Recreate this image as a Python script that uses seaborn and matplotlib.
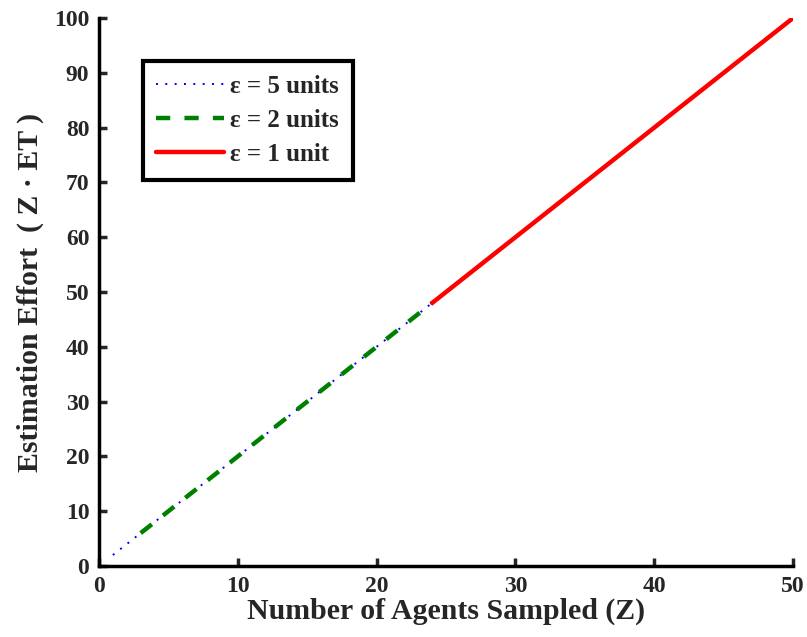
import pandas as pd
import seaborn as sns
import matplotlib.pyplot as plt

# Date
z_eps5 = [1, 24]
effort_eps5 = [2, 48]
z_eps2 = [3, 24]
effort_eps2 = [6, 48]
z_eps1 = [24, 50]
effort_eps1 = [48, 100]

x_ticks = [0, 10, 20, 30, 40, 50]
y_ticks = [0, 10, 20, 30, 40, 50, 60, 70, 80, 90, 100]

sns.set_style('ticks')
plt.rcParams['font.family'] = ['Liberation Serif', 'DejaVu Serif']
plt.rcParams['font.weight'] = 'bold'

fig = plt.figure(figsize=(8.07, 6.37), dpi=100)
ax = fig.add_axes([0.1227, 0.1115, 0.86, 0.8602])

sns.lineplot(x=z_eps5, y=effort_eps5, ax=ax, color='blue', lw=1.4,
             linestyle=(0, (1, 3.8)), label='ε = 5 units')
sns.lineplot(x=z_eps2, y=effort_eps2, ax=ax, color='green', lw=3.2,
             linestyle=(0, (3.2, 3.2)), label='ε = 2 units')
sns.lineplot(x=z_eps1, y=effort_eps1, ax=ax, color='red', lw=3.2,
             linestyle='-', label='ε = 1 unit')

ax.set_xlim(0, 50)
ax.set_ylim(0, 100)
ax.set_xticks(x_ticks)
ax.set_yticks(y_ticks)
ax.tick_params(direction='in', length=6, width=2.5, labelsize=17, pad=7)
for lbl in ax.get_xticklabels() + ax.get_yticklabels():
    lbl.set_fontweight('bold')

for s in ['top', 'right']:
    ax.spines[s].set_visible(False)
for s in ['left', 'bottom']:
    ax.spines[s].set_linewidth(2.5)
    ax.spines[s].set_color('black')

ax.set_xlabel('Number of Agents Sampled (Z)', fontsize=21.5, fontweight='bold', labelpad=1)
ax.set_ylabel('Estimation Effort  ( Z · ET )', fontsize=21.5, fontweight='bold', labelpad=7)

leg = ax.legend(loc='upper left', bbox_to_anchor=(0.063, 0.922), fontsize=18,
                frameon=True, fancybox=False, framealpha=1, edgecolor='black',
                handlelength=2.7, handletextpad=0.25, borderpad=0.55,
                labelspacing=0.45, borderaxespad=0)
leg.get_frame().set_linewidth(3)
for t in leg.get_texts():
    t.set_fontweight('bold')

plt.savefig('out.png', dpi=100)
